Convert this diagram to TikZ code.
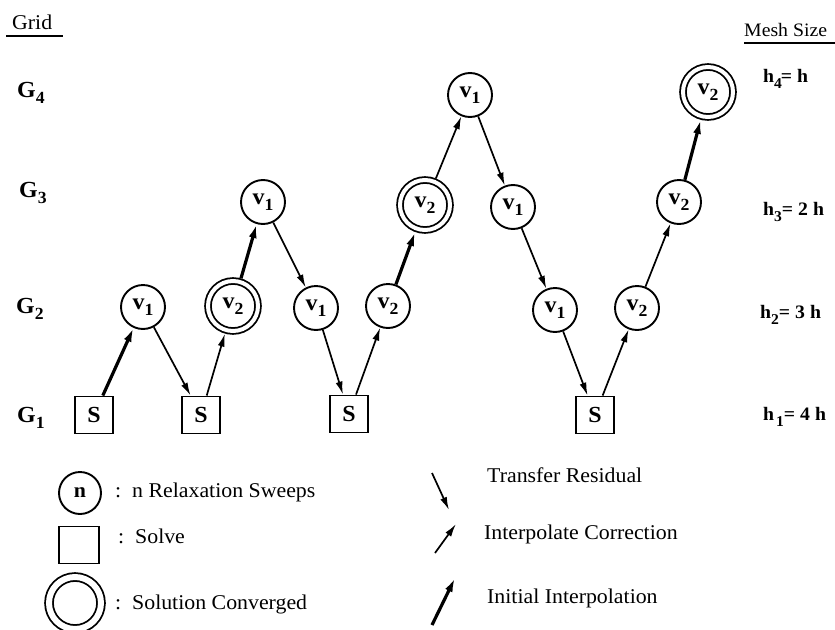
\documentclass[tikz,border=0pt]{standalone}
\usepackage{fontspec}
\setmainfont{Liberation Serif}[FakeStretch=1.04]
\usetikzlibrary{arrows.meta}

\newcommand{\lab}{\fontsize{21}{25}\selectfont}
\newcommand{\biglab}{\fontsize{23}{27}\selectfont}
\newcommand{\lowdigit}[1]{\raisebox{-6pt}{\fontsize{17}{17}\selectfont\bfseries #1}}
\newcommand{\hdigit}[1]{\raisebox{-6pt}{\fontsize{15}{15}\selectfont\bfseries #1}}
\newcommand{\vsub}[1]{v\lowdigit{#1}}

\tikzset{
  sweep/.style={circle, draw, line width=1.9pt, minimum size=44pt, inner sep=0pt, font=\biglab\bfseries},
  solve/.style={rectangle, draw, line width=1.9pt, minimum width=38pt, minimum height=37pt, inner sep=0pt, font=\biglab\bfseries},
  conv/.style={circle, draw, line width=1.8pt, double, double distance=4pt, minimum size=50pt, inner sep=0pt, outer sep=3.8pt, font=\biglab\bfseries},
  residual/.style={-{Latex[length=13pt,width=7pt]}, line width=1.7pt},
  correction/.style={residual},
  firstinterp/.style={-{Latex[length=14pt,width=8pt]}, line width=3.2pt},
  txt/.style={anchor=base west, inner sep=0pt, font=\lab},
  gridlab/.style={anchor=base west, inner sep=0pt, font=\biglab\bfseries},
  hlab/.style={anchor=base west, inner sep=0pt, font=\fontsize{19}{23}\selectfont\bfseries},
}

\begin{document}
\begin{tikzpicture}[x=1pt,y=-1pt]
  \useasboundingbox (0,0) rectangle (835,629);

  % headings
  \node[txt] (grid) at (12,29) {Grid};
  \draw[line width=1.8pt] (6,36) -- (63,36);
  \node[txt, font=\fontsize{19}{23}\selectfont] (mesh) at (744,36) {Mesh Size};
  \draw[line width=1.8pt] (744,43) -- (835,43);

  % grid levels
  \node[gridlab] (g4) at (17,97) {G\lowdigit{4}};
  \node[gridlab] (g3) at (19,197) {G\lowdigit{3}};
  \node[gridlab] (g2) at (16,313) {G\lowdigit{2}};
  \node[gridlab] (g1) at (17,422) {G\lowdigit{1}};

  % mesh sizes
  \node[hlab] (h4) at (763,82) {h\hdigit{4}\kern-1pt= h};
  \node[hlab] (h3) at (763,215) {h\hdigit{3}= 2 h};
  \node[hlab] (h2) at (760,318) {h\hdigit{2}= 3 h};
  \node[hlab] (h1) at (763,420) {h\kern2pt\hdigit{1}= 4 h};

  % cycle
  \node[solve] (s1) at (94,415) {S};
  \node[sweep] (a1) at (143,307) {\vsub1};
  \node[solve] (s2) at (201,415) {S};
  \node[conv]  (a2) at (233,306) {\vsub2};
  \node[sweep] (b1) at (263,202) {\vsub1};
  \node[sweep] (a3) at (316,308) {\vsub1};
  \node[solve] (s3) at (349,414) {S};
  \node[sweep] (a4) at (388,306) {\vsub2};
  \node[conv]  (b2) at (425,205) {\vsub2};
  \node[sweep] (c1) at (470,95) {\vsub1};
  \node[sweep] (b3) at (513,207) {\vsub1};
  \node[sweep] (a5) at (555,310) {\vsub1};
  \node[solve] (s4) at (595,415) {S};
  \node[sweep] (a6) at (637,308) {\vsub2};
  \node[sweep] (b4) at (679,202) {\vsub2};
  \node[conv]  (c2) at (708,92) {\vsub2};

  \draw[firstinterp] (s1) -- (a1);
  \draw[residual] (a1) -- (s2);
  \draw[correction] (s2) -- (a2);
  \draw[firstinterp] (a2) -- (b1);
  \draw[residual] (b1) -- (a3);
  \draw[residual] (a3) -- (s3);
  \draw[correction] (s3) -- (a4);
  \draw[firstinterp] (a4) -- (b2);
  \draw[correction] (b2) -- (c1);
  \draw[residual] (c1) -- (b3);
  \draw[residual] (b3) -- (a5);
  \draw[residual] (a5) -- (s4);
  \draw[correction] (s4) -- (a6);
  \draw[correction] (a6) -- (b4);
  \draw[firstinterp] (b4) -- (c2);

  % legend
  \node[sweep, minimum size=42pt, font=\lab\bfseries] (keyn) at (80,493) {n};
  \node[txt] (keyntxt) at (115,497) {:\ \ n Relaxation Sweeps};
  \node[solve, minimum width=40pt] (keys) at (79,545) {};
  \node[txt] (keystxt) at (118,543) {:\ \ Solve};
  \node[conv, minimum size=52pt, double distance=6pt] (keyc) at (75,603) {};
  \node[txt] (keyctxt) at (115,609) {:\ \ Solution Converged};

  \coordinate (tr1) at (432,473);
  \coordinate (tr2) at (449,510);
  \coordinate (ic1) at (435,553);
  \coordinate (ic2) at (456,524);
  \coordinate (ii1) at (432,625);
  \coordinate (ii2) at (455,578);
  \draw[residual] (tr1) -- (tr2);
  \draw[correction] (ic1) -- (ic2);
  \draw[firstinterp] (ii1) -- (ii2);
  \node[txt] (trtxt) at (487,482) {Transfer Residual};
  \node[txt] (ictxt) at (484,539) {Interpolate Correction};
  \node[txt] (iitxt) at (487,603) {Initial Interpolation};
\end{tikzpicture}
\end{document}
